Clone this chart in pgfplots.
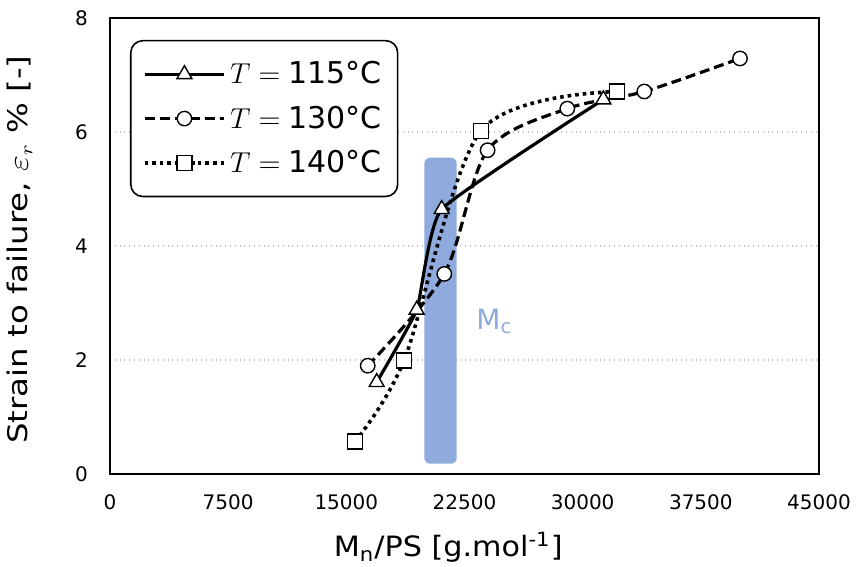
\documentclass[border=0pt]{standalone}
\usepackage{fontspec}
\setmainfont{DejaVu Sans}
\usepackage{pgfplots}
\pgfplotsset{compat=1.18}
\definecolor{mcblue}{HTML}{8FAADC}
\begin{document}
\begin{tikzpicture}
\begin{axis}[
  name=ax,
  scale only axis,
  width=354.5pt, height=228pt,
  xmin=0, xmax=45000, ymin=0, ymax=8,
  xtick={0,7500,15000,22500,30000,37500,45000},
  ytick={0,2,4,6,8},
  scaled x ticks=false,
  xticklabel style={/pgf/number format/1000 sep={}, yshift=-7pt},
  yticklabel style={xshift=-7.5pt},
  /pgf/number format/assume math mode=true,
  tick label style={font=\fontsize{10}{12}\selectfont},
  major tick length=0pt,
  ymajorgrids,
  grid style={gray!50, dotted, line width=0.8pt},
  axis line style={line width=1pt},
  xlabel={\scalebox{1.08}[1]{M\textsubscript{n}/PS [g.mol\textsuperscript{-1}]}},
  ylabel={\scalebox{1.2}[1]{Strain to failure, $\varepsilon_r$ \% [-]}},
  xlabel style={font=\fontsize{14}{17}\selectfont, at={(rel axis cs:0.477,-0.182)}, anchor=base},
  ylabel style={font=\fontsize{13.5}{16}\selectfont, at={(rel axis cs:-0.1157,0.492)}, anchor=base},
  legend style={at={(0.0282,0.952)}, anchor=north west, rounded corners=6pt,
    draw=black, line width=0.8pt, font=\fontsize{15}{18}\selectfont,
    inner xsep=6pt, inner ysep=8.5pt, row sep=5.5pt},
  legend cell align=left,
  legend image code/.code={\draw[mark repeat=2,mark phase=2] plot coordinates {(0cm,0cm)(0.7cm,0cm)(1.4cm,0cm)};},
]
\addplot[fill=mcblue, draw=none, rounded corners=3pt, forget plot] coordinates {(19949,0.18) (22005,0.18) (22005,5.55) (19949,5.55)} -- cycle;
\node[text=mcblue, font=\fontsize{14}{17}\selectfont] at (axis cs:24400,2.68) {M\textsubscript{c}};
\addplot[black, line width=1.6pt, smooth, tension=0.25, mark=triangle*, mark size=4.3pt, mark options={fill=white, draw=black, solid, line width=0.7pt}]
  coordinates {(16927,1.61) (19466,2.88) (21052,4.645) (31312,6.57)};
\addlegendentry{$T = {}$115°C}
\addplot[black, line width=1.6pt, smooth, dash pattern=on 5pt off 2.5pt, mark=*, mark size=3.6pt, mark options={fill=white, draw=black, solid, line width=0.7pt}]
  coordinates {(16357,1.90) (21218,3.51) (23966,5.68) (29025,6.41) (33911,6.71) (39986,7.29)};
\addlegendentry{$T = {}$130°C}
\addplot[black, line width=1.8pt, smooth, dash pattern=on 1.8pt off 2pt, mark=square*, mark size=3.75pt, mark options={fill=white, draw=black, solid, line width=0.7pt}]
  coordinates {(15550,0.57) (18660,1.99) (23547,6.02) (32193,6.71)};
\addlegendentry{$T = {}$140°C}
\end{axis}
\pgfresetboundingbox
\path ([shift={(-55pt,-46.5pt)}]ax.south west) rectangle ([shift={(19pt,9pt)}]ax.north east);
\end{tikzpicture}
\end{document}
